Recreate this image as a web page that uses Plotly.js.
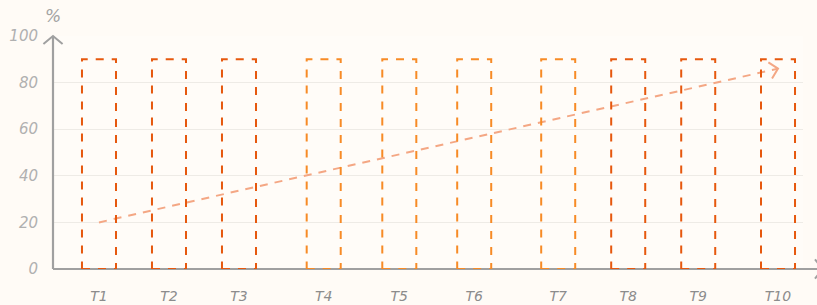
<!DOCTYPE html>
<html>
<head>
<meta charset="utf-8">
<script src="https://cdn.plot.ly/plotly-3.0.1.min.js"></script>
<style>html,body{margin:0;padding:0;background:#fffbf6;}</style>
</head>
<body>
<div id="chart" style="width:817px;height:305px;"></div>
<script>
// ---- data ----
const categories = ["T1","T2","T3","T4","T5","T6","T7","T8","T9","T10"];
const xPositions = [1, 2, 3, 4.21, 5.29, 6.36, 7.56, 8.56, 9.56, 10.7];
const barValues = [90, 90, 90, 90, 90, 90, 90, 90, 90, 90];
const barGroup = ["dark","dark","dark","light","light","light","light","dark","dark","dark"];
const trendX = ["T1", "T10"];
const trendValues = [20, 86];
const yTicks = [0, 20, 40, 60, 80, 100];
const yAxisLabel = "%";

// ---- styles ----
const colors = {dark: "#e6580e", light: "#f78b26"};
const trendColor = "#f4a784";
const axisColor = "#a0a0a0";
const barHalf = 0.243;
const xRange = [0.343, 11.057];
const yRange = [0, 100];
const W = 817, H = 305;
const margin = {l: 53, r: 14, t: 36, b: 36, pad: 0};
const pw = W - margin.l - margin.r, ph = H - margin.t - margin.b;

const posOf = {};
categories.forEach((c, i) => posOf[c] = xPositions[i]);

// chevron path (pixel offsets, y up) with tip at 0,0 pointing along (dx,dy)
function chevron(dx, dy, armLen, angleDeg) {
  const l = Math.hypot(dx, dy);
  const bx = -dx / l, by = -dy / l;
  const a = angleDeg * Math.PI / 180;
  const r = (s) => [armLen * (bx * Math.cos(s * a) - by * Math.sin(s * a)),
                    armLen * (bx * Math.sin(s * a) + by * Math.cos(s * a))];
  const p1 = r(1), p2 = r(-1);
  return `M${p1[0].toFixed(2)},${p1[1].toFixed(2)} L0,0 L${p2[0].toFixed(2)},${p2[1].toFixed(2)}`;
}

const shapes = [];
const xAxisEnd = 1 + (823 - (W - margin.r)) / pw;
// axis lines
shapes.push({type: "line", xref: "paper", yref: "paper", x0: 0, x1: xAxisEnd, y0: 0, y1: 0,
  line: {color: axisColor, width: 2.2}, layer: "above"});
shapes.push({type: "line", xref: "paper", yref: "paper", x0: 0, x1: 0, y0: 0, y1: 1,
  line: {color: axisColor, width: 2.2}, layer: "above"});
// axis arrowheads
shapes.push({type: "path", xref: "paper", yref: "paper", xsizemode: "pixel", ysizemode: "pixel",
  xanchor: 0, yanchor: 1, path: chevron(0, 1, 12.5, 50), line: {color: axisColor, width: 2}, layer: "above"});
shapes.push({type: "path", xref: "paper", yref: "paper", xsizemode: "pixel", ysizemode: "pixel",
  xanchor: xAxisEnd, yanchor: 0, path: chevron(1, 0, 12.5, 50), line: {color: axisColor, width: 2}, layer: "above"});

// dashed bar outlines
categories.forEach((c, i) => {
  shapes.push({type: "rect", xref: "x", yref: "y",
    x0: xPositions[i] - barHalf, x1: xPositions[i] + barHalf, y0: 0, y1: barValues[i],
    line: {color: colors[barGroup[i]], width: 2, dash: "8px,8px"}, fillcolor: "rgba(0,0,0,0)", layer: "above"});
});

const tx = trendX.map(c => posOf[c]);
const traces = [{
  x: tx, y: trendValues, type: "scatter", mode: "lines",
  line: {color: trendColor, width: 2, dash: "8px,7px"}, hoverinfo: "skip", showlegend: false
}];

// trend arrowhead, direction from the data in pixel space
const dxp = (tx[1] - tx[0]) / (xRange[1] - xRange[0]) * pw;
const dyp = (trendValues[1] - trendValues[0]) / (yRange[1] - yRange[0]) * ph;
shapes.push({type: "path", xref: "x", yref: "y", xsizemode: "pixel", ysizemode: "pixel",
  xanchor: tx[1], yanchor: trendValues[1], path: chevron(dxp, dyp, 11.5, 46),
  line: {color: trendColor, width: 2}, layer: "above"});

const annotations = [
  {x: 0, y: 1, xref: "paper", yref: "paper", xanchor: "center", yanchor: "bottom", yshift: 8, showarrow: false,
   text: yAxisLabel, font: {family: "DejaVu Sans", size: 17, color: "#a3a3a3", style: "italic"}}
];

const layout = {
  width: W, height: H, margin: margin,
  paper_bgcolor: "#fffbf6", plot_bgcolor: "#fffcf8",
  showlegend: false,
  xaxis: {range: xRange, tickvals: xPositions, ticktext: categories, showgrid: false, zeroline: false,
    showline: false, ticks: "outside", ticklen: 14, tickcolor: "rgba(0,0,0,0)",
    tickfont: {family: "DejaVu Sans", size: 14, color: "#8c8c8c", style: "italic"}, fixedrange: true},
  yaxis: {range: yRange, tickvals: yTicks, showgrid: true, gridcolor: "#eeebe6", gridwidth: 1, zeroline: false,
    showline: false, ticks: "", ticklabelstandoff: 14,
    tickfont: {family: "DejaVu Sans", size: 15, color: "#b0b0b0", style: "italic"}, fixedrange: true},
  shapes: shapes,
  annotations: annotations
};

Plotly.newPlot("chart", traces, layout, {displayModeBar: false, staticPlot: true});
</script>
</body>
</html>
